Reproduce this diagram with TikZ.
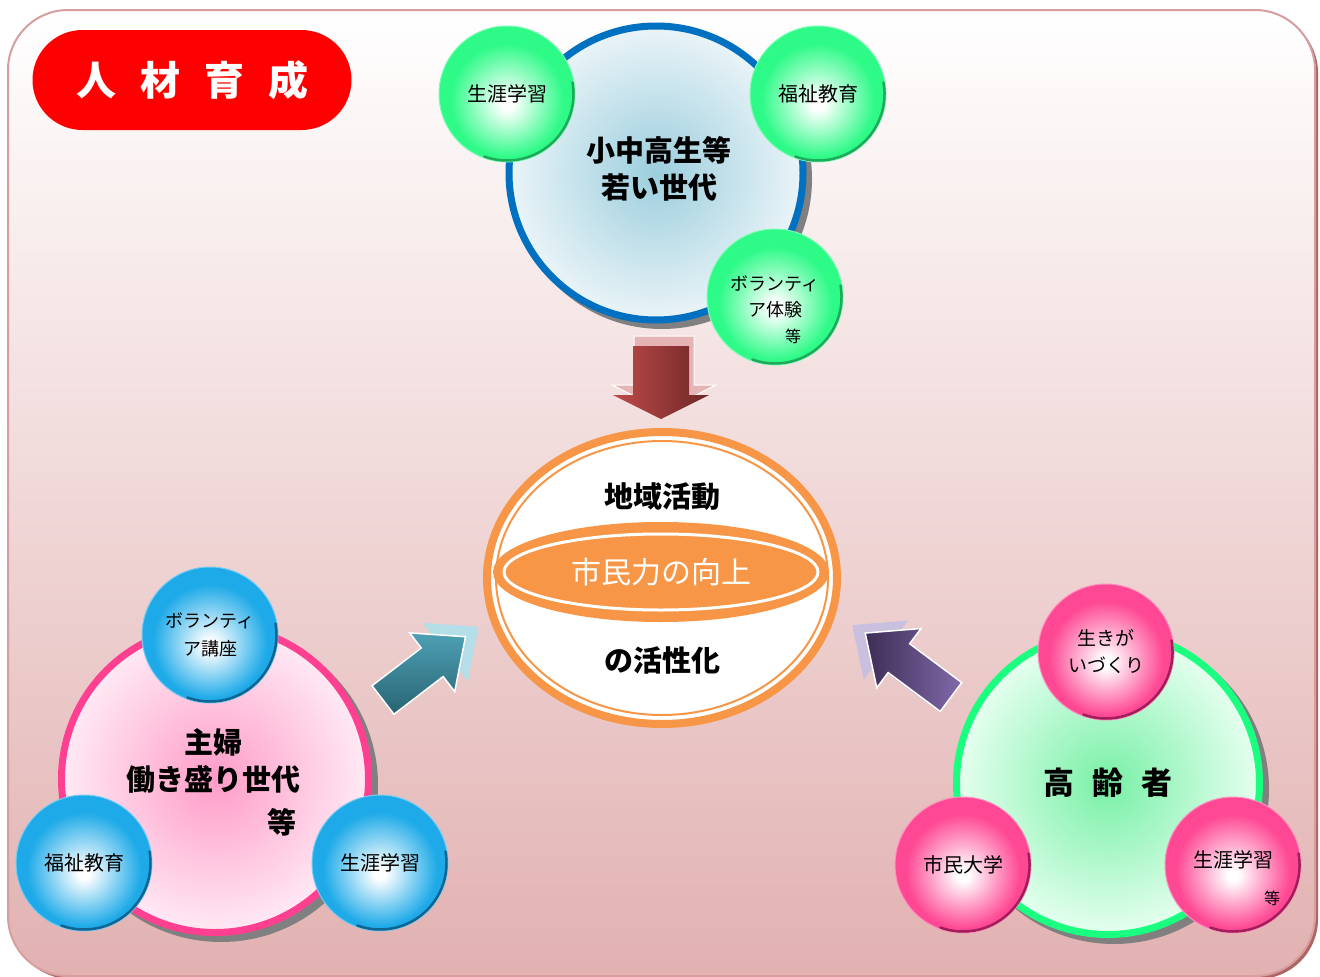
\documentclass[tikz,border=0pt]{standalone}
\usepackage{fontspec}
\setmainfont{Noto Sans CJK JP}
\usetikzlibrary{positioning,calc}

\definecolor{FramePink}{RGB}{214,158,158}
\definecolor{FrameShade}{RGB}{175,100,100}
\definecolor{PageBottom}{RGB}{226,177,177}
\definecolor{TitleRed}{RGB}{255,0,0}
\definecolor{RingBlue}{RGB}{0,112,192}
\definecolor{RingPink}{RGB}{255,64,144}
\definecolor{RingGreen}{RGB}{26,255,128}
\definecolor{CoreOrange}{RGB}{247,150,70}
\definecolor{ShadowGray}{RGB}{128,128,128}
\definecolor{BlueInner}{RGB}{156,206,221}
\definecolor{BlueOuter}{RGB}{234,244,248}
\definecolor{PinkInner}{RGB}{255,156,200}
\definecolor{PinkOuter}{RGB}{255,234,244}
\definecolor{GreenInner}{RGB}{120,240,166}
\definecolor{GreenOuter}{RGB}{230,255,240}
% spheres
\definecolor{GreenEdge}{RGB}{45,250,135}
\definecolor{GreenRim}{RGB}{30,170,90}
\definecolor{BlueEdge}{RGB}{30,170,232}
\definecolor{BlueRim}{RGB}{15,100,145}
\definecolor{PinkEdge}{RGB}{255,72,148}
\definecolor{PinkRim}{RGB}{160,30,90}
% arrows
\definecolor{TealLight}{RGB}{78,160,180}
\definecolor{TealDark}{RGB}{40,100,115}
\definecolor{TealGhost}{RGB}{180,222,232}
\definecolor{PurpleLight}{RGB}{130,105,170}
\definecolor{PurpleDark}{RGB}{60,45,85}
\definecolor{PurpleGhost}{RGB}{200,192,222}
\definecolor{RedLight}{RGB}{190,75,75}
\definecolor{RedDark}{RGB}{110,38,38}
\definecolor{RedGhost}{RGB}{230,180,180}

\pgfdeclareradialshading{GreenSphere}{\pgfpoint{0bp}{-4bp}}{color(0bp)=(white); color(2bp)=(white); color(21bp)=(GreenEdge); color(50bp)=(GreenEdge)}
\pgfdeclareradialshading{BlueSphere}{\pgfpoint{0bp}{-4bp}}{color(0bp)=(white); color(2bp)=(white); color(21bp)=(BlueEdge); color(50bp)=(BlueEdge)}
\pgfdeclareradialshading{PinkSphere}{\pgfpoint{0bp}{-4bp}}{color(0bp)=(white); color(2bp)=(white); color(21bp)=(PinkEdge); color(50bp)=(PinkEdge)}

% block arrow along +x: shaft length, total length, shaft half width, head half width, style
\newcommand{\blockarrow}[5]{%
  \path[#5] (0,-#3) -- (#1,-#3) -- (#1,-#4) -- (#2,0) -- (#1,#4) -- (#1,#3) -- (0,#3) -- cycle;}

\begin{document}
\begin{tikzpicture}[x=1pt,y=-1pt,
  sphere/.style={circle, minimum size=136pt, inner sep=0pt, align=center, line width=1pt, font=\fontsize{20}{27}\selectfont},
  greensphere/.style={sphere, shading=GreenSphere, draw=GreenEdge!60!white},
  bluesphere/.style={sphere, shading=BlueSphere, draw=BlueEdge!60!white},
  pinksphere/.style={sphere, shading=PinkSphere, draw=PinkEdge!60!white},
  bigring/.style={circle, minimum size=#1, inner sep=0pt, line width=7pt},
  bigtext/.style={font=\bfseries\fontsize{29}{37}\selectfont, align=center, inner sep=0pt},
  smalletc/.style={font=\fontsize{16}{16}\selectfont, inner sep=0pt}]
\useasboundingbox (0,0) rectangle (1320,977);

% frame
\fill[FrameShade, rounded corners=60pt] (11,13) rectangle (1318,979);
\draw[FramePink, line width=2pt, rounded corners=60pt, top color=white, bottom color=PageBottom] (8,10) rectangle (1315,976);

% title
\node (title) [fill=TitleRed, rounded corners=50pt, minimum width=319pt, minimum height=100pt, text=white, font=\bfseries\fontsize{40}{40}\selectfont] at (192,80) {人\hspace{24pt}材\hspace{24pt}育\hspace{24pt}成};

% young generation
\fill[ShadowGray] (662,179) circle[radius=150pt];
\node (youth) [bigring=294pt, draw=RingBlue, inner color=BlueInner, outer color=BlueOuter] at (656,173) {};
\node (youth-text) [bigtext] at (659,169) {小中高生等\\若い世代};
\node (youth-life) [greensphere] at (507,94) {生涯学習};
\node (youth-welfare) [greensphere] at (818,94) {福祉教育};
\node (youth-volunteer) [greensphere] at (775,297) {};
\node (youth-volunteer-text) [align=center, font=\fontsize{18}{26}\selectfont] at (775,310) {ボランティ\\ア体験\\{\fontsize{16}{16}\selectfont\hspace*{36pt}等}};

% arrow down
\begin{scope}[shift={(664,336)}, rotate=-90]
  \blockarrow{49}{75}{30}{52}{fill=RedGhost, draw=white, line width=1pt}
\end{scope}
\begin{scope}[shift={(661,346)}, rotate=-90]
  \blockarrow{49}{73}{28}{48}{left color=RedLight, right color=RedDark}
\end{scope}

% core
\draw[CoreOrange, line width=8pt, fill=white] (662,578) ellipse [x radius=175pt, y radius=146pt];
\draw[CoreOrange, line width=2pt] (662,578) ellipse [x radius=166pt, y radius=137pt];
\fill[CoreOrange] (661,572) ellipse [x radius=168pt, y radius=50pt];
\draw[white, line width=3pt] (661,572) ellipse [x radius=157pt, y radius=38pt];
\node (core-top) [bigtext] at (662,497) {地域活動};
\node (core-band) [bigtext, text=white, font=\fontsize{30}{30}\selectfont] at (661,572) {市民力の向上};
\node (core-bottom) [bigtext] at (662,660) {の活性化};

% arrow from left
\begin{scope}[shift={(396,690)}, rotate=37.5]
  \blockarrow{62}{104}{18}{37}{fill=TealGhost}
\end{scope}
\begin{scope}[shift={(383,700)}, rotate=37.5]
  \blockarrow{62}{104}{18}{37}{top color=TealLight, bottom color=TealDark, draw=white, line width=1.5pt}
\end{scope}

% arrow from right
\begin{scope}[shift={(938,689)}, rotate=143.3]
  \blockarrow{65}{107}{18}{37}{fill=PurpleGhost}
\end{scope}
\begin{scope}[shift={(951,697)}, rotate=143.3]
  \blockarrow{65}{107}{18}{37}{left color=PurpleDark, right color=PurpleLight, draw=white, line width=1.5pt}
\end{scope}

% working generation
\fill[ShadowGray] (221,785) circle[radius=157pt];
\node (adult) [bigring=307pt, draw=RingPink, inner color=PinkInner, outer color=PinkOuter] at (215,779) {};
\node (adult-text) [bigtext] at (213,761) {主婦\\働き盛り世代};
\node (adult-etc) [bigtext] at (282,822) {等};
\node (adult-volunteer) [bluesphere, font=\fontsize{18}{28}\selectfont] at (210,635) {ボランティ\\ア講座};
\node (adult-welfare) [bluesphere] at (84,863) {福祉教育};
\node (adult-life) [bluesphere] at (380,863) {生涯学習};

% seniors
\fill[ShadowGray] (1114,789) circle[radius=155pt];
\node (senior) [bigring=303pt, draw=RingGreen, inner color=GreenInner, outer color=GreenOuter] at (1108,783) {};
\node (senior-text) [bigtext, font=\bfseries\fontsize{31}{31}\selectfont] at (1108,783) {高\hspace{18pt}齢\hspace{18pt}者};
\node (senior-purpose) [pinksphere, font=\fontsize{19}{27}\selectfont] at (1106,652) {生きが\\いづくり};
\node (senior-college) [pinksphere] at (963,865) {市民大学};
\node (senior-life) [pinksphere] at (1233,865) {};
\node (senior-life-text) [font=\fontsize{20}{20}\selectfont] at (1233,860) {生涯学習};
\node (senior-etc) [smalletc] at (1272,898) {等};

% darker rim on the lower right of each sphere
\foreach \s/\c in {youth-life/GreenRim, youth-welfare/GreenRim, youth-volunteer/GreenRim,
                   adult-volunteer/BlueRim, adult-welfare/BlueRim, adult-life/BlueRim,
                   senior-purpose/PinkRim, senior-college/PinkRim, senior-life/PinkRim}
  \draw[\c, line width=2.5pt, line cap=round] (\s.center) ++(10:66.5pt) arc[start angle=10, end angle=-110, radius=66.5pt];
\end{tikzpicture}
\end{document}
